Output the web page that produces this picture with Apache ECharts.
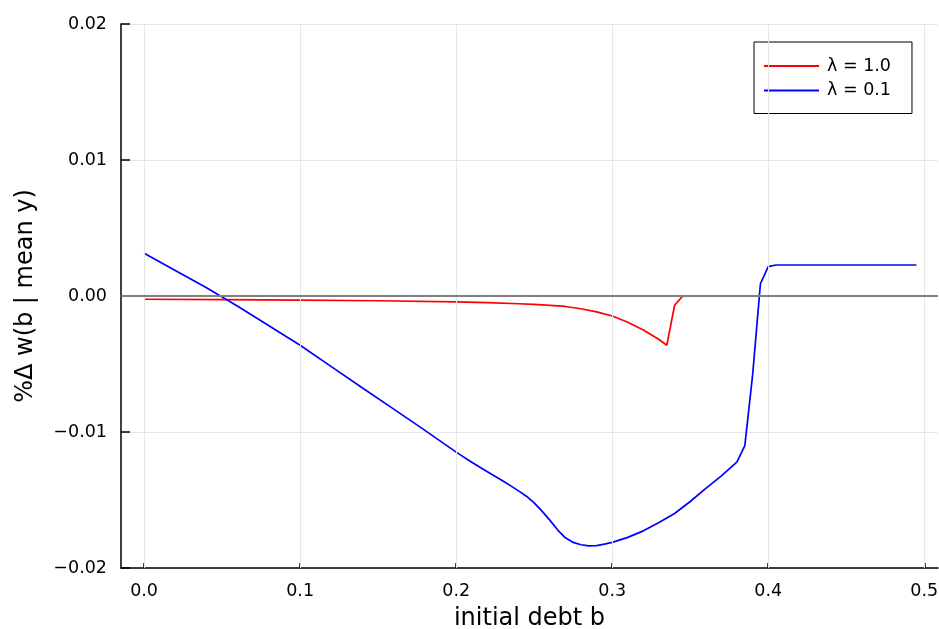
<!DOCTYPE html>
<html>
<head>
<meta charset="utf-8">
<script src="https://cdn.jsdelivr.net/npm/echarts@6/dist/echarts.min.js"></script>
<style>
  html, body { margin: 0; padding: 0; background: #ffffff; }
  #chart { width: 939px; height: 629px; }
</style>
</head>
<body>
<div id="chart"></div>
<script>
// Welfare change by initial debt, two values of lambda
const bRed = [0, 0.05, 0.10, 0.15, 0.20, 0.22, 0.24, 0.25, 0.26, 0.27, 0.28, 0.29, 0.30, 0.31, 0.32, 0.33, 0.335, 0.34, 0.345, 0.35, 0.495];
const wRed = [-0.00024, -0.00026, -0.00030, -0.00035, -0.00043, -0.00049, -0.00057, -0.00062, -0.00069, -0.00077, -0.00094, -0.00117, -0.00147, -0.00193, -0.00250, -0.00320, -0.00362, -0.00068, -0.00003, 0, 0];

const bBlue = [0, 0.02, 0.04, 0.06, 0.08, 0.10, 0.12, 0.14, 0.16, 0.18, 0.20, 0.21, 0.22, 0.23, 0.235, 0.24, 0.245, 0.25, 0.255, 0.26, 0.265, 0.27, 0.275, 0.28, 0.285, 0.29, 0.295, 0.30, 0.31, 0.32, 0.33, 0.34, 0.35, 0.36, 0.37, 0.38, 0.385, 0.39, 0.395, 0.40, 0.405, 0.495];
const wBlue = [0.00314, 0.00187, 0.00060, -0.00075, -0.00219, -0.00362, -0.00519, -0.00676, -0.00832, -0.00988, -0.01148, -0.01222, -0.01292, -0.01361, -0.01396, -0.01433, -0.01472, -0.01521, -0.01582, -0.01648, -0.01719, -0.01778, -0.01812, -0.01829, -0.01837, -0.01835, -0.01824, -0.01812, -0.01775, -0.01727, -0.01665, -0.01599, -0.01511, -0.01415, -0.01322, -0.01220, -0.01100, -0.00580, 0.00090, 0.00216, 0.00228, 0.00228];

const xTicks = [0, 0.1, 0.2, 0.3, 0.4, 0.5];
const yTicks = [-0.02, -0.01, 0, 0.01, 0.02];
const zeroLine = [0];

const seriesNames = ['λ = 1.0', 'λ = 0.1'];

const FONT = 'DejaVu Sans';
const TICK_SIZE = 17.5;
const GUIDE_SIZE = 24;
const chart = echarts.init(document.getElementById('chart'), null, { renderer: 'canvas' });

const pairs = (xs, ys) => xs.map((x, i) => [x, ys[i]]);
const minus = s => s.replace('-', '\u2212');

chart.setOption({
  animation: false,
  backgroundColor: '#ffffff',
  grid: { left: 121, top: 24, right: 1, height: 544, outerBoundsMode: 'none', containLabel: false },
  xAxis: {
    type: 'value',
    min: -0.0148,
    max: 0.5088,
    name: 'initial debt b',
    nameLocation: 'middle',
    nameGap: 39,
    nameTextStyle: { fontFamily: FONT, fontSize: GUIDE_SIZE, color: '#000' },
    axisLine: { show: true, onZero: false, lineStyle: { color: '#000', width: 1.5 } },
    axisTick: { show: true, inside: true, length: 5, customValues: xTicks, lineStyle: { color: '#000', width: 1.5 } },
    axisLabel: { customValues: xTicks, margin: 14, fontFamily: FONT, fontSize: TICK_SIZE, color: '#000',
      formatter: v => minus(v.toFixed(1)) },
    splitLine: { show: false }
  },
  yAxis: {
    type: 'value',
    min: yTicks[0],
    max: yTicks[yTicks.length - 1],
    interval: 0.01,
    name: '%Δ w(b | mean y)',
    nameLocation: 'middle',
    nameRotate: 90,
    nameGap: 83,
    nameTextStyle: { fontFamily: FONT, fontSize: GUIDE_SIZE, color: '#000' },
    axisLine: { show: true, onZero: false, lineStyle: { color: '#000', width: 1.5 } },
    axisTick: { show: true, inside: true, length: 9, lineStyle: { color: '#000', width: 1.5 } },
    axisLabel: { margin: 14, fontFamily: FONT, fontSize: TICK_SIZE, color: '#000',
      formatter: v => minus(v.toFixed(2)) },
    splitLine: { show: true, lineStyle: { color: '#e6e6e6', width: 1 } }
  },
  legend: {
    data: seriesNames,
    orient: 'vertical',
    left: 754,
    top: 42,
    padding: [15, 21, 14, 9],
    itemWidth: 55,
    itemHeight: 14,
    itemGap: 6.5,
    itemStyle: { opacity: 0 },
    backgroundColor: '#ffffff',
    borderColor: '#000',
    borderWidth: 1,
    borderRadius: 0,
    textStyle: { fontFamily: FONT, fontSize: TICK_SIZE, color: '#000', padding: [0, 0, 0, 3] }
  },
  series: [
    {
      name: 'vgrid',
      type: 'line',
      data: [],
      silent: true,
      z: 0,
      markLine: {
        silent: true,
        symbol: 'none',
        label: { show: false },
        lineStyle: { color: '#e6e6e6', width: 1, type: 'solid' },
        data: xTicks.map(v => ({ xAxis: v }))
      }
    },
    {
      name: seriesNames[0],
      type: 'line',
      data: pairs(bRed, wRed),
      showSymbol: false,
      symbol: 'none',
      color: '#ff0000',
      lineStyle: { color: '#ff0000', width: 1.7 },
      z: 3
    },
    {
      name: seriesNames[1],
      type: 'line',
      data: pairs(bBlue, wBlue),
      showSymbol: false,
      symbol: 'none',
      color: '#0000ff',
      lineStyle: { color: '#0000ff', width: 1.7 },
      z: 4
    },
    {
      name: 'zero',
      type: 'line',
      data: [],
      silent: true,
      z: 5,
      markLine: {
        silent: true,
        symbol: 'none',
        label: { show: false },
        lineStyle: { color: '#808080', width: 1.8, type: 'solid' },
        data: zeroLine.map(v => ({ yAxis: v }))
      }
    }
  ]
});
</script>
</body>
</html>
